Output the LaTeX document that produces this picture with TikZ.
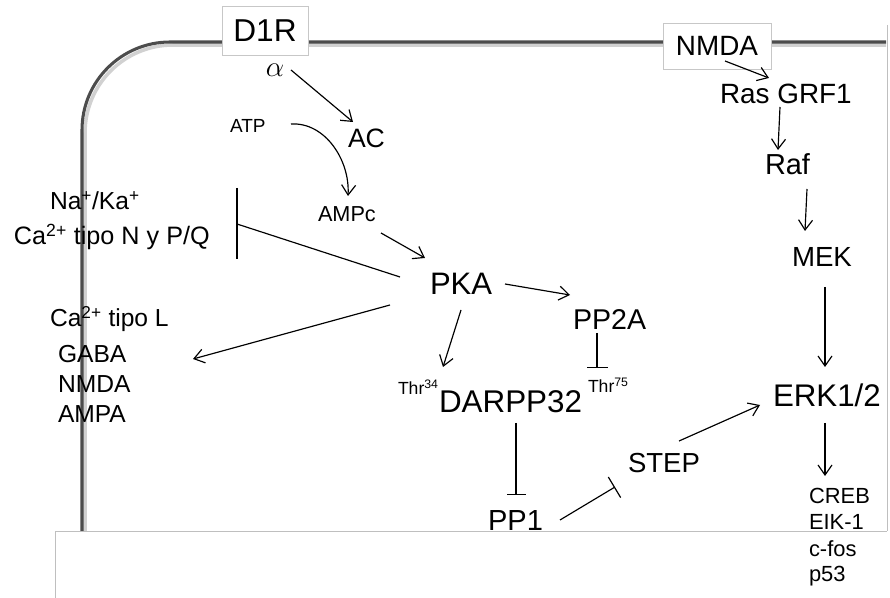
\documentclass[tikz,border=0pt]{standalone}
\usepackage{fontspec}
\setmainfont{Liberation Sans}
\usetikzlibrary{arrows.meta,calc}
\newcommand{\fs}[1]{\fontsize{#1}{#1}\selectfont}
\begin{document}
\begin{tikzpicture}[x=0.03cm,y=-0.03cm,
  lbl/.style={inner sep=0pt, outer sep=0pt, anchor=base west},
  arr/.style={line width=1pt, -{Straight Barb[length=3mm,width=4.2mm]}},
  inh/.style={line width=1pt, -{Bar[width=#1]}},
  plain/.style={line width=1pt},
  memb/.style={line width=2.6pt, draw=black!70, rounded corners=2.64cm},
  membshadow/.style={line width=3pt, draw=black!18, rounded corners=2.64cm},
  rbox/.style={draw=black!22, fill=white, line width=0.8pt, inner sep=0pt},
  frame/.style={draw=black!25, line width=0.8pt}]
\useasboundingbox (0,0) rectangle (890,598);
% membrane
\draw[membshadow] (85,531) -- (85,45) -- (886,45);
\draw[memb] (82,531) -- (82,42) -- (886,42);
\draw[frame] (887,25) -- (887,531);
% receptor boxes
\node[rbox, minimum width=2.58cm, minimum height=1.47cm] (D1R) at (265,30.5) {\fs{27}D1R};
\node[rbox, minimum width=3.24cm, minimum height=1.38cm] (NMDAr) at (717,46) {\fs{23.8}NMDA};
% labels
\node[lbl, anchor=base] (alpha) at (275,77) {\fs{23}$\alpha$};
\node[lbl] (AC) at (348,148) {\fs{22.7}AC};
\node[lbl] (ATP) at (230,133) {\fs{16.2}ATP};
\node[lbl] (AMPc) at (318,222) {\fs{18.5}AMPc};
\node[lbl] (Na) at (50,210) {\fs{21}Na\textsuperscript{+}/Ka\textsuperscript{+}};
\node[lbl] (CaNPQ) at (14,245) {\fs{21.5}Ca\textsuperscript{2+} tipo N y P/Q};
\node[lbl] (PKA) at (430,295) {\fs{26.5}PKA};
\node[lbl] (PP2A) at (573,330) {\fs{24.4}PP2A};
\node[lbl] (Thr75) at (588,393) {\fs{15}Thr\textsuperscript{75}};
\node[lbl] (Thr34) at (398,395) {\fs{15}Thr\textsuperscript{34}};
\node[lbl] (DARPP) at (439,413) {\fs{26.8}DARPP32};
\node[lbl] (CaL) at (50,327) {\fs{21}Ca\textsuperscript{2+} tipo L};
\node[lbl] (GABA) at (58,363) {\fs{21}GABA};
\node[lbl] (NMDAl) at (58,393) {\fs{21}NMDA};
\node[lbl] (AMPA) at (58,423) {\fs{21}AMPA};
\node[lbl] (PP1) at (488,530) {\fs{24.8}PP1};
\node[lbl] (STEP) at (628,473) {\fs{23.5}STEP};
\node[lbl] (ERK) at (773,407) {\fs{26.7}ERK1/2};
\node[lbl] (MEK) at (792,267) {\fs{23.6}MEK};
\node[lbl] (Raf) at (765,175) {\fs{24.7}Raf};
\node[lbl] (Ras) at (720,104) {\fs{23.8}Ras GRF1};
% connectors
\draw[arr] ([shift={(16,-7)}]alpha.base) -- ([shift={(5,-26)}]AC.base west);
\draw[arr] ([shift={(61,-9)}]ATP.base west) .. controls ([shift={(95,-11)}]ATP.base west) and ([shift={(32,-62)}]AMPc.base west) .. ([shift={(30,-26)}]AMPc.base west);
\draw[arr] ([shift={(63,11)}]AMPc.base west) -- ([shift={(-5,-37)}]PKA.base west);
\coordinate (barNPQ) at (237,224);
\draw[plain] ([shift={(-30,-18)}]PKA.base west) -- (barNPQ);
\draw[plain] (barNPQ) ++(0,-36) -- ++(0,71);
\draw[arr] ([shift={(-40,10)}]PKA.base west) -- ([shift={(135,-4)}]GABA.base west);
\draw[arr] ([shift={(75,-11)}]PKA.base west) -- ([shift={(-3,-35)}]PP2A.base west);
\draw[arr] ([shift={(31,15)}]PKA.base west) -- ([shift={(4,-46)}]DARPP.base west);
\draw[inh=6.3mm] ([shift={(24,3)}]PP2A.base west) -- ([shift={(9,-25)}]Thr75.base west);
\draw[inh=5.7mm] ([shift={(77,10)}]DARPP.base west) -- ([shift={(28,-35)}]PP1.base west);
\draw[inh=7.2mm] ([shift={(72,-10)}]PP1.base west) -- ([shift={(-13,14)}]STEP.base west);
\draw[arr] ([shift={(51,-32)}]STEP.base west) -- ([shift={(-13,-2)}]ERK.base west);
\draw[arr] ([shift={(8,15)}]NMDAr.center) -- ([shift={(49,-26)}]Ras.base west);
\draw[arr] ([shift={(60,3)}]Ras.base west) -- ([shift={(13,-25)}]Raf.base west);
\draw[arr] ([shift={(42,14)}]Raf.base west) -- ([shift={(13,-36)}]MEK.base west);
\draw[arr] ([shift={(33,20)}]MEK.base west) -- ([shift={(52,-40)}]ERK.base west);
% bottom panel
\fill[white] (55,531) rectangle (895,605);
\draw[frame] (55,600) -- (55,531) -- (887,531);
% targets of ERK
\node[lbl] (CREB) at (809,503) {\fs{18.7}CREB};
\node[lbl] (EIK) at (809,529) {\fs{18.7}EIK-1};
\node[lbl] (cfos) at (809,556) {\fs{18.7}c-fos};
\node[lbl] (p53) at (809,581) {\fs{18.7}p53};
\draw[arr] ([shift={(52,16)}]ERK.base west) -- ([shift={(16,-27)}]CREB.base west);
\end{tikzpicture}
\end{document}
